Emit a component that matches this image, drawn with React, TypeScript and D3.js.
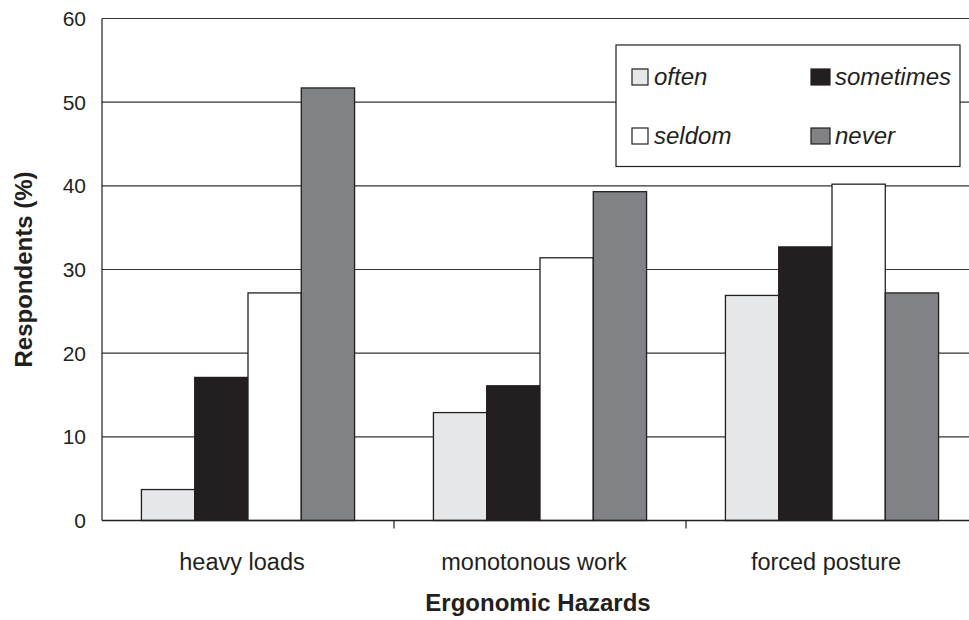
import React from "react";
import * as d3 from "d3";

const categories = ["heavy loads", "monotonous work", "forced posture"];
const seriesNames = ["often", "sometimes", "seldom", "never"];
const often = [3.7, 12.9, 26.9];
const sometimes = [17.1, 16.1, 32.7];
const seldom = [27.2, 31.4, 40.2];
const never = [51.7, 39.3, 27.2];
const yTicks = [0, 10, 20, 30, 40, 50, 60];
const seriesColors = ["#e6e7e8", "#231f20", "#ffffff", "#808285"];

const W = 969;
const H = 620;
const left = 102;
const right = 978;
const top = 18.5;
const bottom = 520.5;
const FONT = "'Liberation Sans', Arial, sans-serif";

export default function App() {
  const values = [often, sometimes, seldom, never];
  const x = d3.scaleBand<string>().domain(categories).range([left, right]).paddingInner(0).paddingOuter(0);
  const xs = d3.scaleBand<string>().domain(seriesNames).range([0, x.bandwidth()]).paddingInner(0).paddingOuter(0.74);
  const y = d3.scaleLinear().domain([0, 60]).range([bottom, top]);

  const legendItems = [
    { name: "often", col: 0, row: 0, c: seriesColors[0] },
    { name: "sometimes", col: 1, row: 0, c: seriesColors[1] },
    { name: "seldom", col: 0, row: 1, c: seriesColors[2] },
    { name: "never", col: 1, row: 1, c: seriesColors[3] },
  ];

  return (
    <svg width={W} height={H} style={{ position: "absolute", left: 0, top: 0, background: "#fff" }} fontFamily={FONT}>
      <rect x={0} y={0} width={W} height={H} fill="#fff" />
      {yTicks.filter((t) => t > 0).map((t) => (
        <line key={t} x1={left} x2={W} y1={y(t)} y2={y(t)} stroke="#333" strokeWidth={1.2} />
      ))}
      <line x1={left} x2={left} y1={top} y2={bottom} stroke="#231f20" strokeWidth={1.2} />
      {yTicks.map((t) => (
        <text key={t} x={86} y={y(t)} dy="0.36em" textAnchor="end" fontSize={21} fill="#231f20">
          {t}
        </text>
      ))}
      {categories.map((c, ci) =>
        seriesNames.map((s, si) => (
          <rect
            key={c + s}
            x={(x(c) as number) + (xs(s) as number)}
            y={y(values[si][ci])}
            width={xs.bandwidth()}
            height={bottom - y(values[si][ci])}
            fill={seriesColors[si]}
            stroke="#231f20"
            strokeWidth={1.3}
          />
        ))
      )}
      <line x1={left} x2={W} y1={bottom} y2={bottom} stroke="#231f20" strokeWidth={1.3} />
      {categories.slice(1).map((c) => (
        <line key={c} x1={x(c)} x2={x(c)} y1={bottom} y2={bottom + 8} stroke="#231f20" strokeWidth={1.2} />
      ))}
      {categories.map((c) => (
        <text key={c} x={(x(c) as number) + x.bandwidth() / 2 - 6} y={570} textAnchor="middle" fontSize={23.5} fill="#231f20">
          {c}
        </text>
      ))}
      <rect x={616} y={45} width={344} height={121.5} fill="#fff" stroke="#231f20" strokeWidth={1.2} />
      {legendItems.map((it) => {
        const sx = it.col === 0 ? 632 : 811;
        const sy = it.row === 0 ? 69 : 128;
        return (
          <g key={it.name}>
            <rect x={sx} y={sy} width={it.col === 0 ? 16 : 19} height={16} fill={it.c} stroke="#231f20" strokeWidth={1.2} />
            <text x={sx + (it.col === 0 ? 22 : 24)} y={sy + 16} fontSize={24} fontStyle="italic" fill="#231f20">
              {it.name}
            </text>
          </g>
        );
      })}
      <text x={538} y={611} textAnchor="middle" fontSize={24} fontWeight="bold" fill="#231f20">
        Ergonomic Hazards
      </text>
      <text transform={`translate(32, ${(top + bottom) / 2}) rotate(-90)`} textAnchor="middle" fontSize={24} fontWeight="bold" fill="#231f20">
        Respondents (%)
      </text>
    </svg>
  );
}
